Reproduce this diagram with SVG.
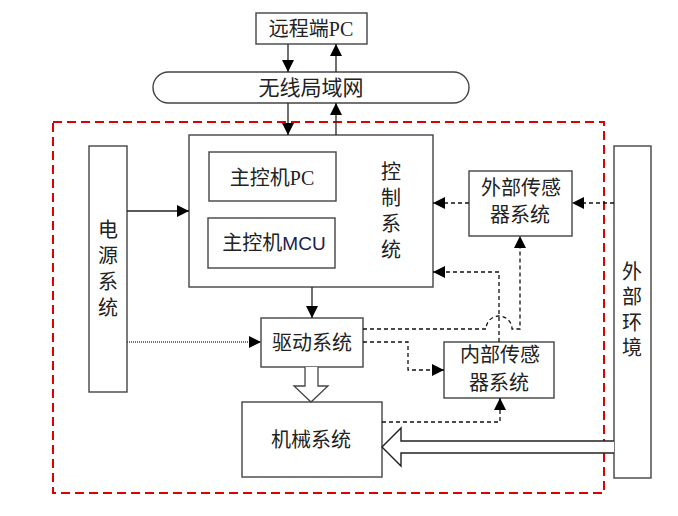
<svg xmlns="http://www.w3.org/2000/svg" width="678" height="516" viewBox="0 0 678 516">
<defs>
<marker id="ah" markerUnits="userSpaceOnUse" markerWidth="12" markerHeight="12" refX="12" refY="6" orient="auto" viewBox="0 0 12 12"><path d="M0,0 L12,6 L0,12 z" fill="#000"/></marker>
</defs>
<style>
.box{fill:#fff;stroke:#444;stroke-width:1.4}
.t{font-family:"Liberation Serif","Noto Sans CJK SC",serif;font-size:20px;fill:#222;text-anchor:middle}
.ln{fill:none;stroke:#222;stroke-width:1.3}
.dl{fill:none;stroke:#111;stroke-width:1.3;stroke-dasharray:4,3}
</style>
<rect width="678" height="516" fill="#fff"/>
<rect x="53" y="122" width="551" height="371" fill="none" stroke="#e00000" stroke-width="2" stroke-dasharray="9,5"/>
<g id="remote-pc"><rect class="box" x="256" y="13" width="111" height="31"/><text class="t" x="311" y="36">远程端PC</text></g>
<g id="wlan"><rect class="box" x="153" y="72" width="316" height="31" rx="15.5"/><text class="t" x="311" y="95" style="font-size:21px">无线局域网</text></g>
<g id="control"><rect class="box" x="189" y="135" width="244" height="152"/>
<text class="t" x="391" y="179">控</text><text class="t" x="391" y="205">制</text><text class="t" x="391" y="231">系</text><text class="t" x="391" y="257">统</text></g>
<g id="main-pc"><rect class="box" x="209" y="152" width="127" height="49"/><text class="t" x="272" y="185">主控机PC</text></g>
<g id="main-mcu"><rect class="box" x="208" y="218" width="127" height="50"/><text class="t" x="274" y="250">主控机<tspan fill="#1a2050" font-family="Liberation Sans Narrow,Liberation Sans,sans-serif" font-size="19">MCU</tspan></text></g>
<g id="power"><rect class="box" x="89" y="146" width="38" height="246"/>
<text class="t" x="108" y="237">电</text><text class="t" x="108" y="263">源</text><text class="t" x="108" y="289">系</text><text class="t" x="108" y="315">统</text></g>
<g id="drive"><rect class="box" x="261" y="318" width="102" height="49"/><text class="t" x="312" y="350">驱动系统</text></g>
<g id="internal-sensor"><rect class="box" x="444" y="342" width="110" height="56"/><text class="t" x="500" y="362">内部传感</text><text class="t" x="499" y="390">器系统</text></g>
<g id="mechanical"><rect class="box" x="242" y="402" width="140" height="75"/><text class="t" x="311" y="447">机械系统</text></g>
<g id="external-sensor"><rect class="box" x="469" y="171" width="103" height="65"/><text class="t" x="521" y="195">外部传感</text><text class="t" x="520" y="222">器系统</text></g>
<g id="environment"><rect class="box" x="614" y="146" width="37" height="332"/>
<text class="t" x="632" y="279">外</text><text class="t" x="632" y="304">部</text><text class="t" x="632" y="330">环</text><text class="t" x="632" y="355">境</text></g>
<g id="connectors">
<line class="ln" x1="288" y1="44" x2="288" y2="72" marker-end="url(#ah)"/>
<line class="ln" x1="336" y1="72" x2="336" y2="44" marker-end="url(#ah)"/>
<line class="ln" x1="288" y1="103" x2="288" y2="135" marker-end="url(#ah)"/>
<line class="ln" x1="336" y1="135" x2="336" y2="103" marker-end="url(#ah)"/>
<line class="ln" x1="127" y1="211" x2="189" y2="211" marker-end="url(#ah)"/>
<line x1="127" y1="342" x2="261" y2="342" fill="none" stroke="#444" stroke-width="1.3" stroke-dasharray="1,1" marker-end="url(#ah)"/>
<line class="ln" x1="312" y1="287" x2="312" y2="318" marker-end="url(#ah)"/>
<path class="dl" d="M614,203 H572" marker-end="url(#ah)"/>
<path class="dl" d="M469,203 H433" marker-end="url(#ah)"/>
<path class="dl" d="M499,342 V272 H433" marker-end="url(#ah)"/>
<path class="dl" d="M363,329 H486 A13,13 0 0 1 512,329 H520 V236" marker-end="url(#ah)"/>
<path class="dl" d="M363,342 H408 V370 H444" marker-end="url(#ah)"/>
<path class="dl" d="M382,422 H500 V398" marker-end="url(#ah)"/>
<path d="M305,367 V386 H294 L311,402 L328,386 H318 V367" fill="#fff" stroke="#444" stroke-width="1.3"/>
<path d="M614,441 H401 V428 L382,447 L401,466 V453 H614" fill="#fff" stroke="#222" stroke-width="1.4"/>
</g>
</svg>
